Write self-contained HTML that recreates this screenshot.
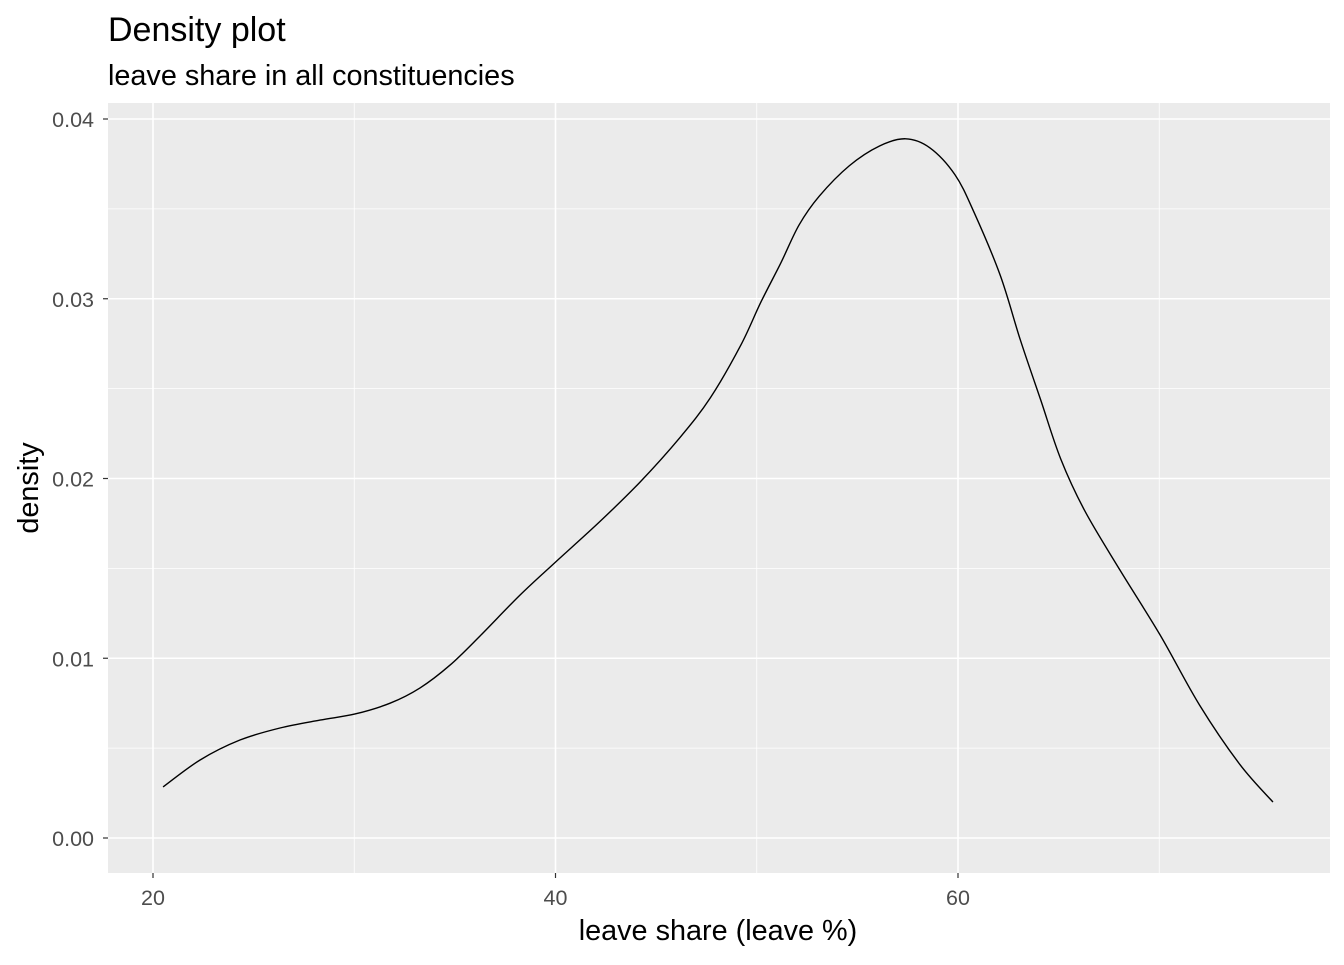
<!DOCTYPE html>
<html><head><meta charset="utf-8"><style>
body{margin:0;background:#fff;font-family:"Liberation Sans",Arial,sans-serif}
</style></head><body>
<svg id="chart" width="1344" height="960" xmlns="http://www.w3.org/2000/svg">
<text x="108" y="41" font-size="34" fill="#000">Density plot</text>
<text x="108" y="85" font-size="28.8" fill="#000">leave share in all constituencies</text>
<rect x="108" y="103" width="1222" height="770" fill="#EBEBEB"/>
<g id="grid"></g>
<g id="axes"></g>
<path id="curve" fill="none" stroke="#000" stroke-width="1.4"/>
<text x="718" y="940" font-size="28.8" text-anchor="middle">leave share (leave %)</text>
<text transform="translate(38,488) rotate(-90)" font-size="28.8" text-anchor="middle">density</text>
</svg>
<script>
const xs=[20.5,22.34,24.32,26.31,28.3,30.04,31.78,33.27,34.76,36.25,38.24,40,42.2,44.2,46.2,47.7,49.2,50.2,51.2,52.1,53.1,54.6,56.1,57.4,58.6,59.85,60.8,62.1,63.1,64.1,65.1,66.3,68.05,70.04,72.0,74.0,75.65];
const ys=[0.00284,0.00434,0.00545,0.00612,0.00656,0.0069,0.0075,0.00835,0.00962,0.01124,0.01352,0.01535,0.0176,0.0198,0.0223,0.0245,0.0274,0.0298,0.0320,0.0341,0.0357,0.0374,0.0385,0.0389,0.0384,0.0369,0.0348,0.0313,0.0277,0.0244,0.0211,0.0182,0.0149,0.0113,0.0074,0.0041,0.0020];
const xTicks=[20,40,60];
const xMinor=[30,50,70];
const yTicks=[0,0.01,0.02,0.03,0.04];
const yTickLabels=["0.00","0.01","0.02","0.03","0.04"];
const yMinor=[0.005,0.015,0.025,0.035];
const X=v=>153+(v-20)*20.125;
const Y=v=>838-v*17975;
const NS="http://www.w3.org/2000/svg";
const grid=document.getElementById('grid'),axes=document.getElementById('axes');
function line(p,x1,y1,x2,y2,c,w,name){const l=document.createElementNS(NS,'line');
l.setAttribute('x1',x1);l.setAttribute('y1',y1);l.setAttribute('x2',x2);l.setAttribute('y2',y2);
l.setAttribute('stroke',c);l.setAttribute('stroke-width',w);


p.appendChild(l);}
function text(x,y,s,anchor,name){const t=document.createElementNS(NS,'text');
t.setAttribute('x',x);t.setAttribute('y',y);t.setAttribute('text-anchor',anchor);
t.setAttribute('font-size','21.5');t.setAttribute('fill','#4D4D4D');t.textContent=s;


axes.appendChild(t);}
xMinor.forEach(v=>line(grid,X(v),103,X(v),873,'#fff',0.8,'x-minor-gridline'));
yMinor.forEach(v=>line(grid,108,Y(v),1330,Y(v),'#fff',0.8,'y-minor-gridline'));
xTicks.forEach(v=>{line(grid,X(v),103,X(v),873,'#fff',1.6,'x-major-gridline');
line(axes,X(v),873,X(v),878,'#333',1.2,'x-tick');text(X(v),905,String(v),'middle','x-tick-label');});
yTicks.forEach((v,i)=>{line(grid,108,Y(v),1330,Y(v),'#fff',1.6,'y-major-gridline');
line(axes,103,Y(v),108,Y(v),'#333',1.2,'y-tick');text(94,Y(v)+8,yTickLabels[i],'end','y-tick-label');});
const P=xs.map((x,i)=>[X(x),Y(ys[i])]);
let d='M'+P[0][0]+','+P[0][1];
for(let i=0;i<P.length-1;i++){const p0=P[Math.max(i-1,0)],p1=P[i],p2=P[i+1],p3=P[Math.min(i+2,P.length-1)];
d+=' C'+(p1[0]+(p2[0]-p0[0])/6)+','+(p1[1]+(p2[1]-p0[1])/6)+' '+(p2[0]-(p3[0]-p1[0])/6)+','+(p2[1]-(p3[1]-p1[1])/6)+' '+p2[0]+','+p2[1];}
document.getElementById('curve').setAttribute('d',d);
</script>
</body></html>
